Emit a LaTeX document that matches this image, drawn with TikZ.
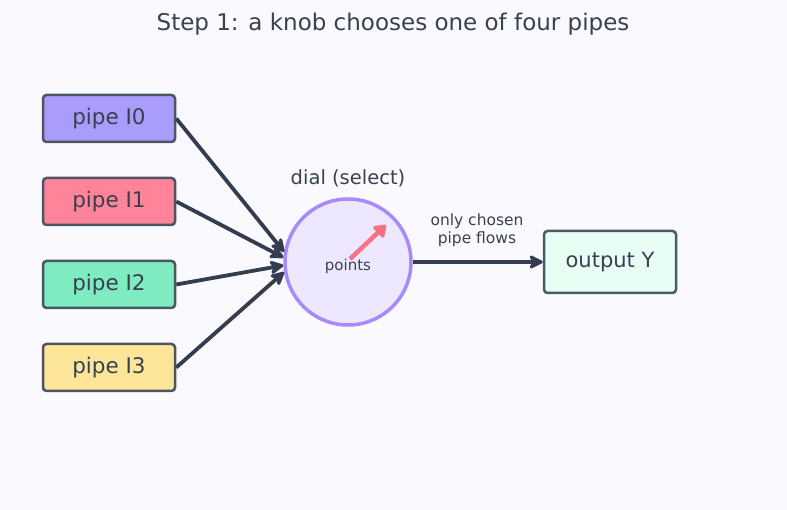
\documentclass[tikz,border=0pt]{standalone}
\usepackage{fontspec}
\setmainfont{DejaVu Sans}
\usetikzlibrary{arrows.meta}
\definecolor{bg}{HTML}{FAFAFE}
\definecolor{txt}{HTML}{374151}
\definecolor{edge}{HTML}{333D4F}
\definecolor{boxline}{HTML}{4B5563}
\definecolor{cI0}{HTML}{A99CFB}
\definecolor{cI1}{HTML}{FF8399}
\definecolor{cI2}{HTML}{7EEBC0}
\definecolor{cI3}{HTML}{FDE69A}
\definecolor{dialfill}{HTML}{EEE8FE}
\definecolor{dialline}{HTML}{A78BFA}
\definecolor{outfill}{HTML}{E8FEF4}
\definecolor{outline}{HTML}{4B5A66}
\definecolor{needle}{HTML}{F87185}
\tikzset{
  pipebox/.style={draw=boxline, line width=2.5pt, rounded corners=3.5pt, minimum width=132pt, minimum height=47pt, inner sep=0pt, text=txt, font=\fontsize{21.5}{25}\selectfont},
  flow/.style={draw=edge, line width=3.8pt, -{Stealth[length=17pt,width=17pt,inset=5pt,round]}},
}
\begin{document}
\begin{tikzpicture}[x=1pt,y=-1pt]
\useasboundingbox[fill=bg] (0,0) rectangle (787,510);
\node[text=txt, font=\fontsize{23}{27}\selectfont] (title) at (393,24) {Step 1: a knob chooses one of four pipes};
\node[pipebox, fill=cI0] (p0) at (109,118.5) {pipe I0};
\node[pipebox, fill=cI1] (p1) at (109,201.5) {pipe I1};
\node[pipebox, fill=cI2] (p2) at (109,284.5) {pipe I2};
\node[pipebox, fill=cI3] (p3) at (109,367.5) {pipe I3};
\node[circle, draw=dialline, fill=dialfill, line width=3.5pt, minimum size=126pt, inner sep=0pt] (dial) at (348,262) {};
\node[text=txt, font=\fontsize{19.5}{23}\selectfont] (diallab) at (348,178) {dial (select)};
\node[text=txt, font=\fontsize{15}{18}\selectfont] (pts) at (348,266) {points};
\coordinate (n0) at (350,259);
\coordinate (n1) at (386,225);
\draw[needle, line width=4.5pt, -{Triangle[length=13pt,width=17pt,round]}] (n0) -- (n1);
\node[draw=outline, fill=outfill, line width=2.5pt, rounded corners=3.5pt, minimum width=132pt, minimum height=62pt, inner sep=0pt, text=txt, font=\fontsize{21}{25}\selectfont] (out) at (610,262) {output Y};
\node[text=txt, font=\fontsize{15.5}{18}\selectfont, align=center] (flowlab) at (477,230) {only chosen\\pipe flows};
\draw[flow] (p0.east) -- (dial.171);
\draw[flow] (p1.east) -- (dial.176);
\draw[flow] (p2.east) -- (dial.183);
\draw[flow] (p3.east) -- (dial.189);
\draw[flow] (dial.east) -- (out.west);
\end{tikzpicture}
\end{document}
